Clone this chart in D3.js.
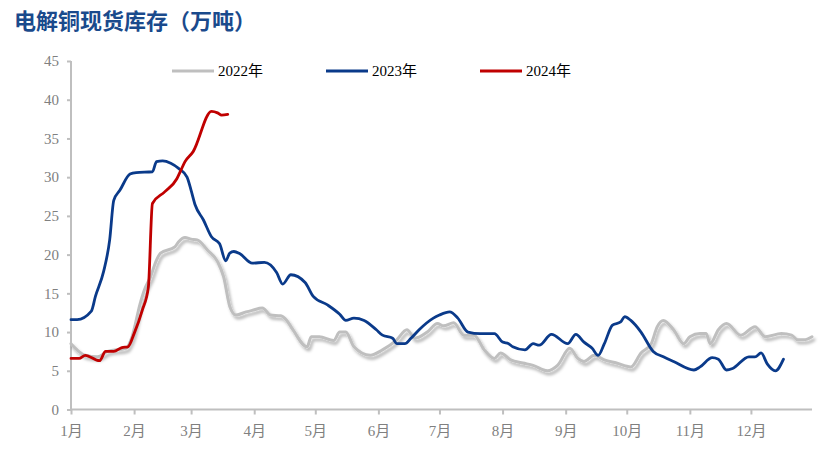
<!DOCTYPE html>
<html>
<head>
<meta charset="utf-8">
<script src="https://cdn.jsdelivr.net/npm/d3@7"></script>
<style>
  body { margin: 0; background: #fff; }
  svg { display: block; }
</style>
</head>
<body>
<div class="container"></div>
<script>
// month labels and y ticks
var monthLabels = ["1月","2月","3月","4月","5月","6月","7月","8月","9月","10月","11月","12月"];
var yTicks = [0,5,10,15,20,25,30,35,40,45];
var seriesNames = ["2022年","2023年","2024年"];

// 2022 (gray)
var dates2022 = ["01-01","01-04","01-08","01-14","01-19","01-28","01-31","02-04","02-06","02-09","02-12","02-14",
  "02-21","02-23","02-26","03-01","03-04","03-09","03-14","03-17","03-20","03-23","03-28","03-31","04-05","04-09",
  "04-14","04-17","04-20","04-27","04-29","05-03","05-10","05-13","05-16","05-20","05-28","06-03","06-10","06-15",
  "06-19","06-25","06-30","07-03","07-08","07-13","07-18","07-23","07-28","07-31","08-05","08-11","08-16","08-23",
  "08-28","09-03","09-07","09-10","09-15","09-20","09-26","10-03","10-08","10-13","10-16","10-19","10-24","10-29",
  "11-01","11-06","11-09","11-11","11-15","11-19","11-26","12-03","12-08","12-16","12-21","12-24","12-27","12-31"];
var values2022 = [8.5,7.7,7.0,6.8,7.5,7.9,9.4,13.7,15.4,17.1,19.3,20.2,
  21.0,21.7,22.2,22.0,21.9,20.6,19.1,17.1,13.3,12.2,12.6,12.8,13.1,12.2,
  12.1,11.5,10.3,8.1,9.4,9.4,8.9,10.0,10.0,8.1,7.0,7.7,9.0,10.3,
  9.2,10.0,11.1,10.8,11.2,9.6,9.6,7.7,6.6,7.3,6.4,6.0,5.7,5.0,
  5.7,7.9,6.6,6.2,7.0,6.4,6.0,5.5,7.3,8.5,10.7,11.5,10.3,8.5,
  9.4,9.8,9.8,8.5,10.3,11.1,9.6,10.7,9.4,9.8,9.6,9.0,9.0,9.4];

// 2023 (blue)
var dates2023 = ["01-01","01-04","01-11","01-13","01-17","01-20","01-22","01-25","01-30","02-02","02-10","02-12",
  "02-15","02-19","02-23","02-27","03-01","03-03","03-07","03-11","03-15","03-18","03-20","03-22","03-25","03-31",
  "04-06","04-12","04-15","04-19","04-26","04-30","05-07","05-13","05-16","05-20","05-25","05-31","06-03","06-08",
  "06-10","06-14","06-17","06-21","06-28","07-01","07-06","07-10","07-15","07-21","07-28","08-01","08-04","08-06",
  "08-12","08-16","08-19","08-25","09-02","09-06","09-10","09-14","09-17","09-20","09-24","09-28","09-30","10-03",
  "10-08","10-14","10-19","10-24","11-03","11-06","11-12","11-15","11-19","11-22","11-30","12-03","12-06","12-09",
  "12-13","12-17"];
var values2023 = [11.6,11.6,12.7,14.6,17.8,21.9,27.0,28.3,30.4,30.6,30.7,32.0,
  32.1,31.8,31.1,30.0,28.3,26.4,24.5,22.3,21.4,19.2,20.2,20.4,20.1,18.9,
  19.0,17.7,16.2,17.4,16.4,14.6,13.5,12.3,11.5,11.8,11.5,10.3,9.6,9.2,
  8.5,8.5,9.2,10.3,11.8,12.2,12.6,11.8,10.0,9.8,9.8,8.7,8.5,8.1,
  7.7,8.5,8.3,9.7,8.5,9.7,8.7,7.9,7.0,8.5,10.9,11.3,12.0,11.5,
  10.0,7.5,6.8,6.2,5.1,5.5,6.7,6.5,5.1,5.3,6.8,6.8,7.3,5.9,
  5.0,6.5];

// 2024 (red)
var dates2024 = ["01-01","01-05","01-08","01-15","01-18","01-22","01-26","01-29","02-01","02-05","02-08","02-10",
  "02-16","02-22","02-24","02-26","03-02","03-11","03-14","03-16","03-19"];
var values2024 = [6.6,6.6,7.0,6.3,7.5,7.5,8.0,8.1,9.8,12.8,15.8,26.6,
  28.1,29.8,30.9,32.0,33.3,38.5,38.3,38.0,38.1];

var colors = ["#bfbfbf","#0a3a8a","#c00000"];

var width = 838, height = 454;
var plot = {left: 71, right: 812, top: 61, bottom: 409.5};

var parse = d3.utcParse("%Y-%m-%d");
function toPoints(dates, values) {
  return dates.map(function (d, i) { return [parse("2022-" + d), values[i]]; });
}
var series = [toPoints(dates2022, values2022), toPoints(dates2023, values2023), toPoints(dates2024, values2024)];

var x_scale = d3.scaleUtc()
    .domain([parse("2022-01-01"), parse("2022-12-31")])
    .range([plot.left, plot.right]);
var y_scale = d3.scaleLinear().domain([0, 45]).range([plot.bottom, plot.top]);

var svg = d3.select("div.container").append("svg")
    .attr("width", width)
    .attr("height", height);

var defs = svg.append("defs");
var shadow = defs.append("filter").attr("id", "shadow")
    .attr("x", "-5%").attr("y", "-10%").attr("width", "110%").attr("height", "130%");
shadow.append("feDropShadow")
    .attr("dx", 2).attr("dy", 3).attr("stdDeviation", 1.6)
    .attr("flood-color", "#000").attr("flood-opacity", 0.3);

// title
svg.append("text")
    .attr("x", 14).attr("y", 29)
    .attr("font-family", "'Noto Sans CJK SC', sans-serif")
    .attr("font-weight", "bold")
    .attr("font-size", 22)
    .attr("fill", "#1a4a8c")
    .text("电解铜现货库存（万吨）");

var serif = "'Liberation Serif', 'Times New Roman', 'Noto Sans CJK SC', serif";

// y axis
var yAxis = svg.append("g")
    .attr("transform", "translate(" + plot.left + ",0)")
    .call(d3.axisLeft(y_scale).tickValues(yTicks).tickSize(4).tickPadding(8));

// x axis
var monthStarts = d3.utcMonths(parse("2022-01-01"), parse("2022-12-31"));
var xAxis = svg.append("g")
    .attr("transform", "translate(0," + plot.bottom + ")")
    .call(d3.axisBottom(x_scale).tickValues(monthStarts).tickSize(5).tickPadding(11)
      .tickFormat(function (d, i) { return monthLabels[i]; }));

[yAxis, xAxis].forEach(function (ax) {
  ax.select(".domain").attr("stroke", "#bfbfbf").attr("stroke-width", 2);
  ax.selectAll(".tick line").attr("stroke", "#bfbfbf").attr("stroke-width", 2);
  ax.selectAll(".tick text")
    .attr("fill", "#808080")
    .attr("font-family", serif)
    .attr("font-size", 15);
});
xAxis.select(".domain").attr("d", "M" + plot.left + ",0H" + plot.right);
yAxis.select(".domain").attr("d", "M0," + plot.top + "V" + plot.bottom);

// lines
var line = d3.line()
    .curve(d3.curveMonotoneX)
    .x(function (d) { return x_scale(d[0]); })
    .y(function (d) { return y_scale(d[1]); });

series.forEach(function (dat, i) {
  svg.append("path")
      .datum(dat)
      .attr("fill", "none")
      .attr("stroke", colors[i])
      .attr("stroke-linejoin", "round")
      .attr("stroke-linecap", "round")
      .attr("stroke-width", i === 0 ? 3 : 2.8)
      .attr("filter", i === 0 ? "url(#shadow)" : null)
      .attr("d", line);
});

// legend
var legendX = [172, 326, 480];
var legend = svg.append("g");
seriesNames.forEach(function (name, i) {
  legend.append("line")
      .attr("x1", legendX[i]).attr("x2", legendX[i] + 42)
      .attr("y1", 71).attr("y2", 71)
      .attr("stroke", colors[i])
      .attr("stroke-width", 3);
  legend.append("text")
      .attr("x", legendX[i] + 46).attr("y", 76)
      .attr("font-family", serif)
      .attr("font-size", 15)
      .attr("fill", "#000")
      .text(name);
});
</script>
</body>
</html>
